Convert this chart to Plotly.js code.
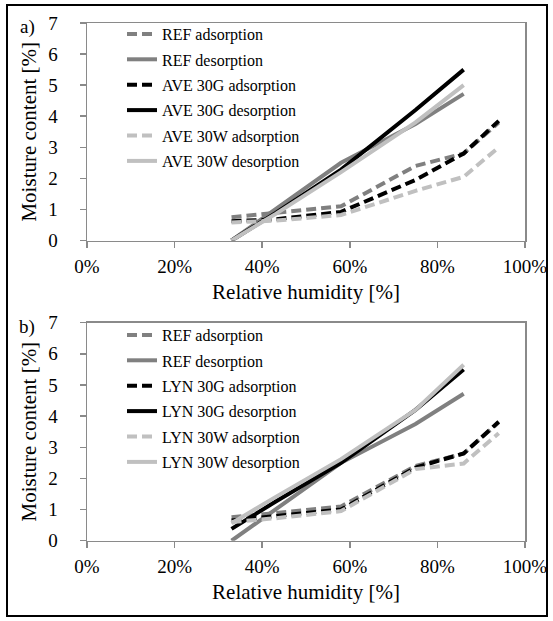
<!DOCTYPE html>
<html>
<head>
<meta charset="utf-8">
<script src="https://cdn.plot.ly/plotly-3.0.1.min.js"></script>
<style>
  html, body { margin: 0; padding: 0; background: #fff; }
  #chart { width: 553px; height: 621px; }
</style>
</head>
<body>
<div id="chart"></div>
<script>
// Relative humidity levels of the salt solutions [%]
const rhAdsorption = [33, 43, 58, 75, 86, 94];
const rhDesorption = [33, 43, 58, 75, 86];

// a) REF vs. AVE boards, moisture content [%]
const refAds = [0.75, 0.9, 1.1, 2.4, 2.8, 3.8];
const refDes = [0, 1.0, 2.5, 3.75, 4.72];
const ave30gAds = [0.62, 0.68, 0.92, 1.95, 2.8, 3.85];
const ave30gDes = [0, 0.88, 2.28, 4.2, 5.5];
const ave30wAds = [0.58, 0.64, 0.82, 1.6, 2.05, 3.0];
const ave30wDes = [0, 0.85, 2.2, 3.8, 5.0];

// b) REF vs. LYN boards, moisture content [%]
const lyn30gAds = [0.65, 0.8, 1.0, 2.35, 2.8, 3.82];
const lyn30gDes = [0.38, 1.25, 2.5, 4.2, 5.5];
const lyn30wAds = [0.6, 0.72, 0.95, 2.3, 2.48, 3.45];
const lyn30wDes = [0.56, 1.4, 2.62, 4.2, 5.65];

const xTicks = [0, 20, 40, 60, 80, 100];
const xTickText = ['0%', '20%', '40%', '60%', '80%', '100%'];
const yTicks = [0, 1, 2, 3, 4, 5, 6, 7];

const panelA = {
  label: 'a)', prefix: 'AVE',
  ads30g: ave30gAds, des30g: ave30gDes, ads30w: ave30wAds, des30w: ave30wDes
};
const panelB = {
  label: 'b)', prefix: 'LYN',
  ads30g: lyn30gAds, des30g: lyn30gDes, ads30w: lyn30wAds, des30w: lyn30wDes
};

const FONT = 'Liberation Serif, Times New Roman, serif';
const GREY = '#808080';
const BLACK = '#000000';
const LIGHT = '#c0c0c0';
const AXIS = '#8a8a8a';
const DASH = '10px,5px';
const LW = 4;

// page geometry (pixels)
const W = 553, H = 621;
const M = { l: 87, r: 28, t: 23, b: 80 };
const plotW = W - M.l - M.r, plotH = H - M.t - M.b;
const px = x => (x - M.l) / plotW;
const py = y => (H - M.b - y) / plotH;

function seriesFor(panel, n) {
  const xa = n === 1 ? 'x' : 'x2', ya = n === 1 ? 'y' : 'y2';
  const lg = n === 1 ? 'legend' : 'legend2';
  const mk = (name, x, y, color, dash) => ({
    type: 'scatter', mode: 'lines', name, x, y,
    xaxis: xa, yaxis: ya, legend: lg, legendgroup: lg + name,
    line: { color, width: LW, dash: dash ? DASH : 'solid' },
    hoverinfo: 'skip'
  });
  return [
    mk('REF adsorption', rhAdsorption, refAds, GREY, true),
    mk('REF desorption', rhDesorption, refDes, GREY, false),
    mk(panel.prefix + ' 30G adsorption', rhAdsorption, panel.ads30g, BLACK, true),
    mk(panel.prefix + ' 30G desorption', rhDesorption, panel.des30g, BLACK, false),
    mk(panel.prefix + ' 30W adsorption', rhAdsorption, panel.ads30w, LIGHT, true),
    mk(panel.prefix + ' 30W desorption', rhDesorption, panel.des30w, LIGHT, false)
  ];
}

const data = [...seriesFor(panelA, 1), ...seriesFor(panelB, 2)];

function xAxis(domainY, anchor) {
  return {
    domain: [0, 1], anchor, range: [0, 100],
    tickvals: xTicks, ticktext: xTickText,
    ticks: 'outside', ticklen: 6, tickwidth: 1.5, tickcolor: AXIS,
    ticklabelstandoff: 2,
    showline: true, linecolor: AXIS, linewidth: 1.5, mirror: true,
    showgrid: false, zeroline: false, fixedrange: true,
    tickfont: { family: FONT, size: 19, color: '#000' },
    title: { text: 'Relative humidity [%]', font: { family: FONT, size: 21, color: '#000' }, standoff: 8 }
  };
}
function yAxis(domain, anchor) {
  return {
    domain, anchor, range: [0, 7],
    tickvals: yTicks,
    ticks: 'outside', ticklen: 6, tickwidth: 1.5, tickcolor: AXIS,
    ticklabelstandoff: 18,
    showline: true, linecolor: AXIS, linewidth: 1.5, mirror: true,
    showgrid: false, zeroline: false, fixedrange: true,
    tickfont: { family: FONT, size: 19, color: '#000' },
    title: { text: 'Moisture content [%]', font: { family: FONT, size: 21, color: '#000' }, standoff: 6 }
  };
}

const topDomain = [py(240.5), py(23)];
const botDomain = [py(540.7), py(322.7)];

const legendBase = {
  xanchor: 'left', yanchor: 'top',
  bgcolor: 'rgba(0,0,0,0)', borderwidth: 0,
  font: { family: FONT, size: 16, color: '#000' },
  tracegroupgap: 1.6, traceorder: 'grouped'
};

const layout = {
  width: W, height: H,
  margin: M,
  paper_bgcolor: '#fff', plot_bgcolor: '#fff',
  showlegend: true,
  xaxis: xAxis(topDomain, 'y'),
  yaxis: yAxis(topDomain, 'x'),
  xaxis2: xAxis(botDomain, 'y2'),
  yaxis2: yAxis(botDomain, 'x2'),
  legend: Object.assign({}, legendBase, { x: px(122), y: py(17) }),
  legend2: Object.assign({}, legendBase, { x: px(122), y: py(318) }),
  annotations: [
    { text: panelA.label, xref: 'paper', yref: 'paper', x: px(27), y: py(27),
      xanchor: 'center', yanchor: 'middle',
      showarrow: false, font: { family: FONT, size: 19, color: '#000' } },
    { text: panelB.label, xref: 'paper', yref: 'paper', x: px(27), y: py(327),
      xanchor: 'center', yanchor: 'middle',
      showarrow: false, font: { family: FONT, size: 19, color: '#000' } }
  ],
  shapes: [
    { type: 'rect', xref: 'paper', yref: 'paper',
      x0: px(7), x1: px(547), y0: py(616), y1: py(5),
      line: { color: '#000', width: 2 }, fillcolor: 'rgba(0,0,0,0)', layer: 'below' }
  ]
};

Plotly.newPlot('chart', data, layout, { staticPlot: true, displayModeBar: false });
</script>
</body>
</html>
